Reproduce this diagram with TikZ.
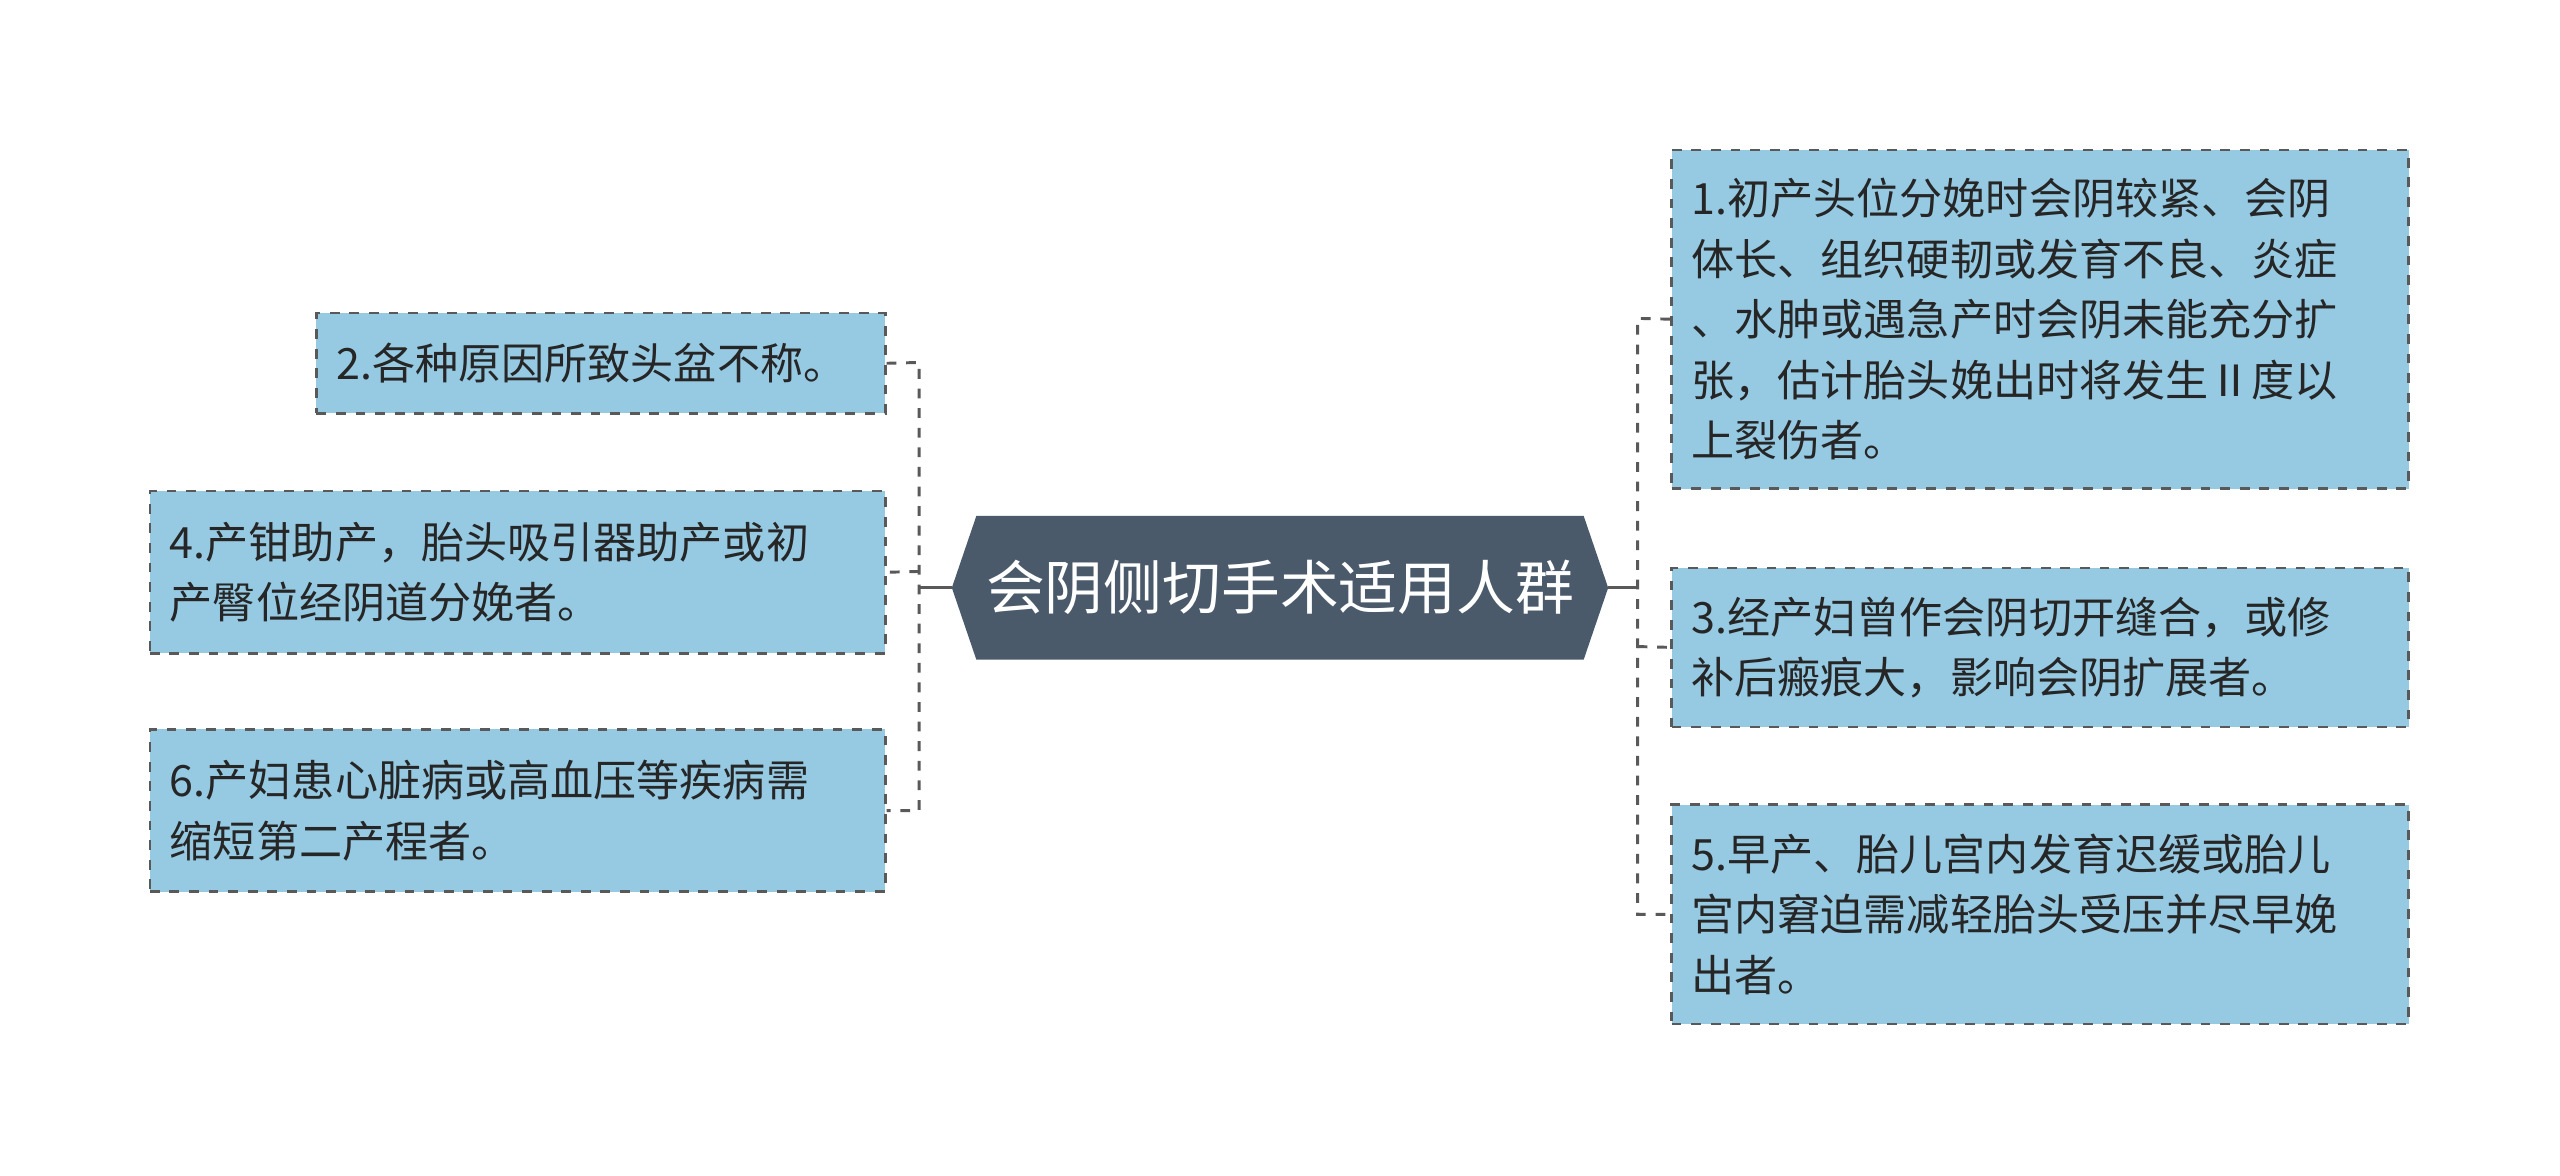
\documentclass[tikz,border=0pt]{standalone}
\usepackage{fontspec}
\setmainfont{Noto Sans CJK SC}
\begin{document}
\begin{tikzpicture}[x=0.5pt,y=-0.5pt,
  leaf/.style={draw=black!65,dashed,fill=boxblue,line width=0.8pt,anchor=north west,align=left,
    font=\fontsize{13.2}{18.5}\selectfont,text=black!85,inner sep=0pt},
  conn/.style={draw=black!65,dashed,line width=0.9pt}]
\definecolor{boxblue}{HTML}{96CAE3}
\definecolor{hub}{HTML}{4A5A6A}
\useasboundingbox (0,0) rectangle (1568,720);
% center
\fill[hub] (583,360)--(598,316)--(970,316)--(985,360)--(970,404)--(598,404)--cycle;
\node[text=white,font=\fontsize{18}{20}\selectfont] (c) at (784,360) {会阴侧切手术适用人群};
\coordinate (cl) at (583,360);
\coordinate (cr) at (985,360);
\newcommand{\leafbox}[5]{%
  \node[leaf,minimum width=#3*0.5pt-0.8pt,minimum height=#4*0.5pt-0.8pt,text width=#3*0.5pt-26*0.5pt,inner xsep=6pt] (#1) at (#2) {#5};}
\leafbox{n2}{193,191}{350}{63}{2.各种原因所致头盆不称。}
\leafbox{n4}{91,300}{452}{101}{4.产钳助产，胎头吸引器助产或初\\产臀位经阴道分娩者。}
\leafbox{n6}{91,446}{452}{101}{6.产妇患心脏病或高血压等疾病需\\缩短第二产程者。}
\leafbox{n1}{1023,91}{453}{209}{1.初产头位分娩时会阴较紧、会阴\\体长、组织硬韧或发育不良、炎症\\、水肿或遇急产时会阴未能充分扩\\张，估计胎头娩出时将发生Ⅱ度以\\上裂伤者。}
\leafbox{n3}{1023,347}{453}{99}{3.经产妇曾作会阴切开缝合，或修\\补后瘢痕大，影响会阴扩展者。}
\leafbox{n5}{1023,492}{453}{136}{5.早产、胎儿宫内发育迟缓或胎儿\\宫内窘迫需减轻胎头受压并尽早娩\\出者。}
% connectors
\draw[black!65,line width=0.9pt] (cl) -- (563,360);
\draw[black!65,line width=0.9pt] (cr) -- (1003,360);
\draw[conn] (n2.east) -- (563,222) |- (n6.east);
\draw[conn] (563,350) -- (n4.east);
\draw[conn] (n1.west) -- (1003,195) |- (n5.west |- 0,560);
\draw[conn] (1003,396) -- (n3.west);
\end{tikzpicture}
\end{document}
